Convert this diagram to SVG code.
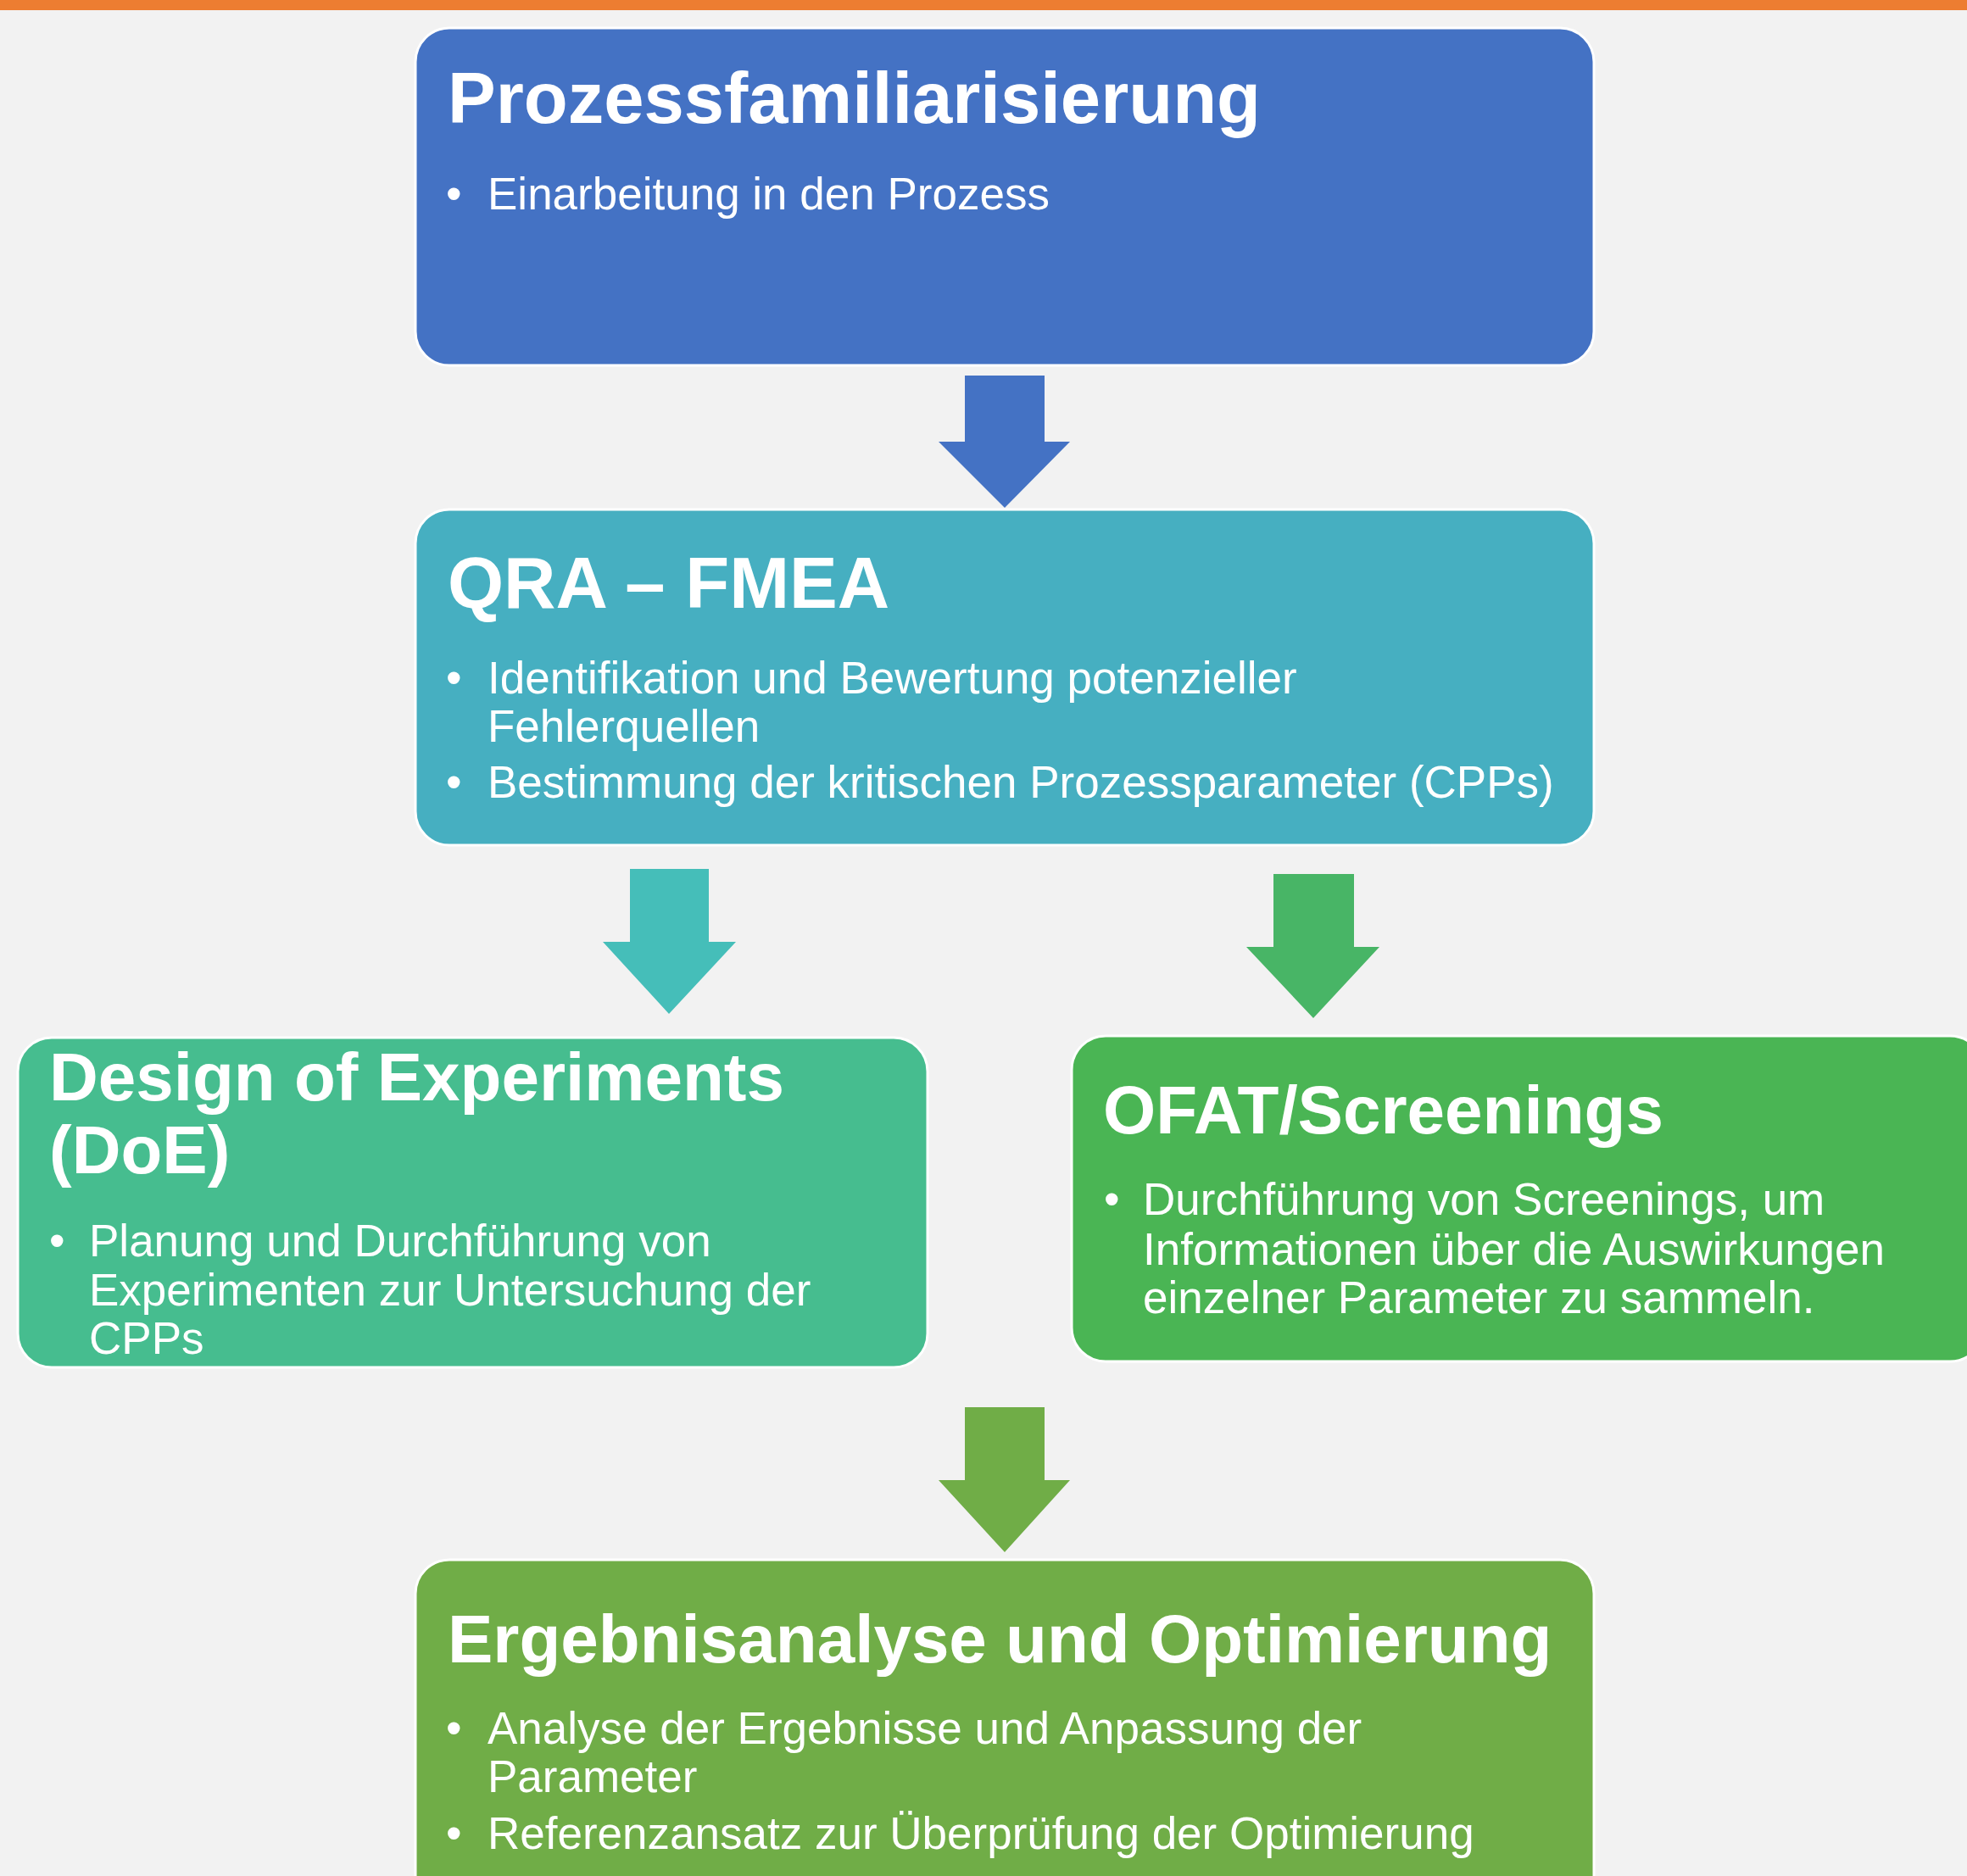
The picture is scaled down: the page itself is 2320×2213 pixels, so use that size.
<svg xmlns="http://www.w3.org/2000/svg" width="2320" height="2213" viewBox="0 0 2320 2213">
<style>
.box{stroke:#ffffff;stroke-width:3}
.t{font-family:"Liberation Sans",Arial,sans-serif;font-weight:bold;fill:#ffffff}
.b{font-family:"Liberation Sans",Arial,sans-serif;font-size:53px;fill:#ffffff}
</style>
<rect x="0" y="0" width="2320" height="2213" fill="#F2F2F2"/>
<rect x="0" y="0" width="2320" height="12" fill="#ED7D31"/>
<g id="connectors">
<polygon id="arrow1" points="1138,443 1232,443 1232,521 1262,521 1185,599 1107,521 1138,521" fill="#4472C4"/>
<polygon id="arrow2" points="743,1025 836,1025 836,1111 868,1111 789,1196 711,1111 743,1111" fill="#45BEB9"/>
<polygon id="arrow3" points="1502,1031 1597,1031 1597,1117 1627,1117 1549,1201 1470,1117 1502,1117" fill="#48B566"/>
<polygon id="arrow4" points="1138,1660 1232,1660 1232,1746 1262,1746 1185,1831 1107,1746 1138,1746" fill="#70AD47"/>
</g>
<g id="node-prozessfamiliarisierung">
<rect class="box" x="490" y="33" width="1390" height="398" rx="40" ry="40" fill="#4472C4"/>
<text class="t" x="528" y="145" font-size="85">Prozessfamiliarisierung</text>
<text class="b" x="526" y="247">•</text>
<text class="b" x="575" y="247">Einarbeitung in den Prozess</text>
</g>
<g id="node-qra-fmea">
<rect class="box" x="490" y="601" width="1390" height="396" rx="40" ry="40" fill="#46AFC1"/>
<text class="t" x="528" y="717" font-size="85">QRA – FMEA</text>
<text class="b" x="526" y="818">•</text>
<text class="b" x="575" y="818">Identifikation und Bewertung potenzieller</text>
<text class="b" x="575" y="875">Fehlerquellen</text>
<text class="b" x="526" y="941">•</text>
<text class="b" x="575" y="941">Bestimmung der kritischen Prozessparameter (CPPs)</text>
</g>
<g id="node-doe">
<rect class="box" x="21" y="1224" width="1073" height="389" rx="40" ry="40" fill="#46BD8F"/>
<text class="t" x="58" y="1298" font-size="80">Design of Experiments</text>
<text class="t" x="58" y="1384" font-size="80">(DoE)</text>
<text class="b" x="58" y="1482">•</text>
<text class="b" x="105" y="1482">Planung und Durchführung von</text>
<text class="b" x="105" y="1540">Experimenten zur Untersuchung der</text>
<text class="b" x="105" y="1597">CPPs</text>
</g>
<g id="node-ofat">
<rect class="box" x="1264" y="1222" width="1076" height="384" rx="40" ry="40" fill="#4AB554"/>
<text class="t" x="1301" y="1337" font-size="80">OFAT/Screenings</text>
<text class="b" x="1302" y="1433">•</text>
<text class="b" x="1348" y="1433">Durchführung von Screenings, um</text>
<text class="b" x="1348" y="1492">Informationen über die Auswirkungen</text>
<text class="b" x="1348" y="1549">einzelner Parameter zu sammeln.</text>
</g>
<g id="node-ergebnisanalyse">
<rect class="box" x="490" y="1840" width="1390" height="420" rx="40" ry="40" fill="#70AD47"/>
<text class="t" x="528" y="1961" font-size="80">Ergebnisanalyse und Optimierung</text>
<text class="b" x="526" y="2057">•</text>
<text class="b" x="575" y="2057">Analyse der Ergebnisse und Anpassung der</text>
<text class="b" x="575" y="2114">Parameter</text>
<text class="b" x="526" y="2181">•</text>
<text class="b" x="575" y="2181">Referenzansatz zur Überprüfung der Optimierung</text>
</g>
</svg>
